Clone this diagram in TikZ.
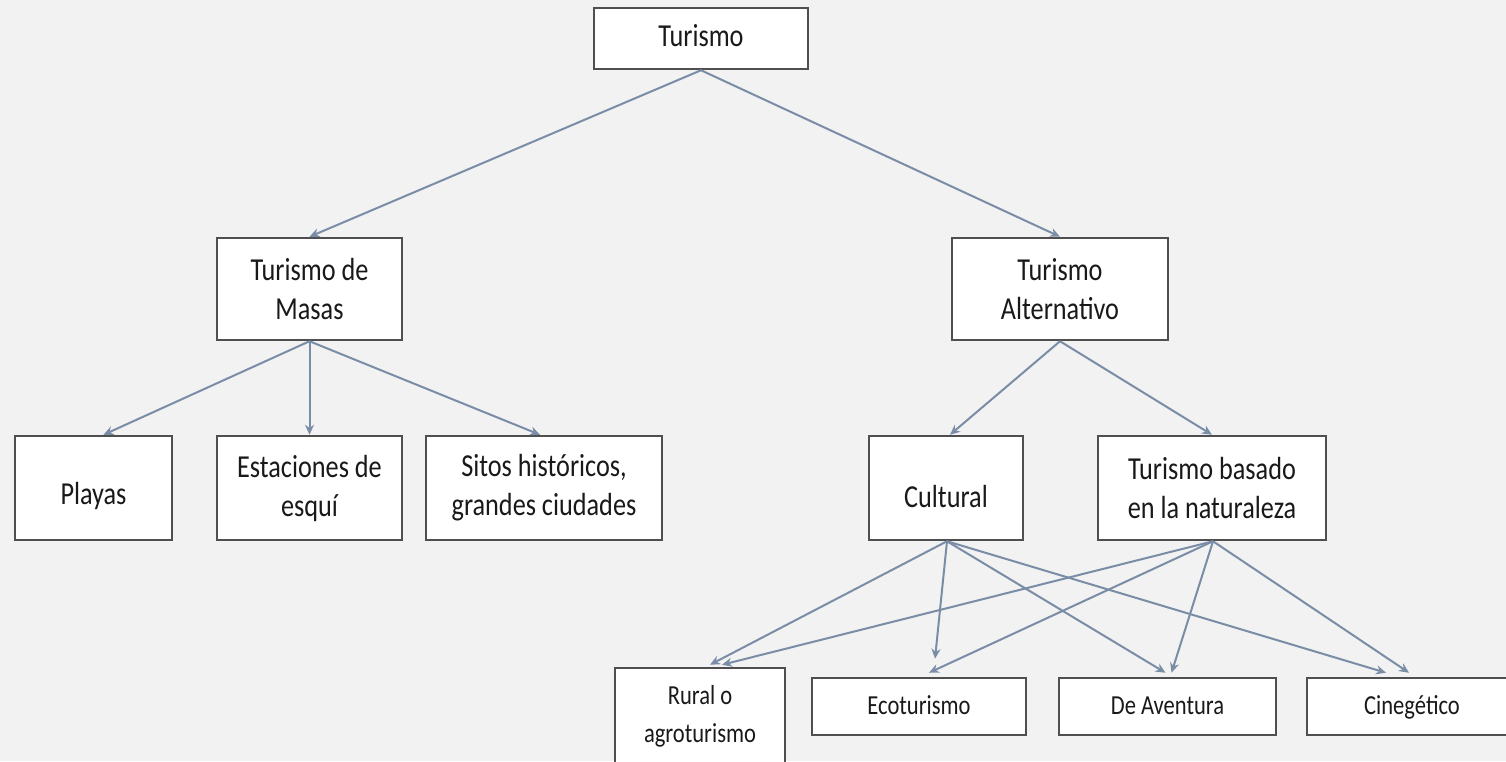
\documentclass[tikz,border=0pt]{standalone}
\usepackage{fontspec}
\setmainfont{Carlito}[FakeStretch=0.82]
\usetikzlibrary{arrows.meta}
\definecolor{bgc}{HTML}{F2F2F2}
\definecolor{boxc}{HTML}{4F4F4F}
\definecolor{arrc}{HTML}{7A8DA6}
\tikzset{
  bx/.style={draw=boxc, line width=2.5pt, fill=white, align=center, inner sep=0pt,
    font=\fontsize{32}{39}\selectfont, text=black!90},
  sbx/.style={bx, font=\fontsize{27.5}{38}\selectfont},
  arr/.style={draw=arrc, line width=2pt, -{Stealth[length=10pt,width=9pt]}},
}
\begin{document}
\begin{tikzpicture}[x=1pt,y=-1pt]
\useasboundingbox (0,0) rectangle (1506,761);
\fill[bgc] (0,0) rectangle (1506,761);
\begin{scope}
\clip (0,0) rectangle (1506,761);
\node[bx, minimum width=214pt, minimum height=61pt] (t) at (701,38.5) {\strut Turismo};
\node[bx, minimum width=185pt, minimum height=102pt] (masas) at (309.5,289) {Turismo de\\Masas};
\node[bx, minimum width=216pt, minimum height=102pt] (alt) at (1060,289) {Turismo\\Alternativo};
\node[bx, minimum width=157pt, minimum height=104pt] (playas) at (93.5,488) {~\\Playas};
\node[bx, minimum width=185pt, minimum height=104pt] (esq) at (309.5,488) {Estaciones de\\esquí};
\node[bx, minimum width=236pt, minimum height=104pt] (sitos) at (544,488) {Sitos históricos,\\grandes ciudades};
\node[bx, minimum width=154pt, minimum height=104pt] (cult) at (946,488) {~\\Cultural};
\node[bx, minimum width=228pt, minimum height=104pt] (nat) at (1212,488) {Turismo basado\\en la naturaleza};
\node[sbx, minimum width=170pt, minimum height=96pt] (rural) at (700,716) {Rural o\\agroturismo};
\node[sbx, minimum width=214pt, minimum height=57pt] (eco) at (919,706.5) {\strut Ecoturismo};
\node[sbx, minimum width=217pt, minimum height=57pt] (ave) at (1167.5,706.5) {\strut De Aventura};
\node[sbx, minimum width=210pt, minimum height=57pt] (cine) at (1412,706.5) {\strut Cinegético};
\end{scope}
% connectors
\draw[arr] (t.south) -- (masas.north);
\draw[arr] (t.south) -- (alt.north);
\draw[arr] (masas.south) -- ([xshift=10pt]playas.north);
\draw[arr] (masas.south) -- (esq.north);
\draw[arr] (masas.south) -- ([xshift=-4pt]sitos.north);
\draw[arr] (alt.south) -- ([xshift=4pt]cult.north);
\draw[arr] (alt.south) -- (nat.north);
\draw[arr] ([xshift=1pt]cult.south) -- ([xshift=10pt,yshift=2pt]rural.north);
\draw[arr] ([xshift=1pt]cult.south) -- ([xshift=16pt,yshift=18pt]eco.north);
\draw[arr] ([xshift=1pt]cult.south) -- ([xshift=-2pt,yshift=4pt]ave.north);
\draw[arr] ([xshift=1pt]cult.south) -- ([xshift=-26pt,yshift=4pt]cine.north);
\draw[arr] ([xshift=1pt]nat.south) -- ([xshift=22pt,yshift=2pt]rural.north);
\draw[arr] ([xshift=1pt]nat.south) -- ([xshift=10pt,yshift=4pt]eco.north);
\draw[arr] ([xshift=1pt]nat.south) -- ([xshift=4pt,yshift=4pt]ave.north);
\draw[arr] ([xshift=1pt]nat.south) -- ([xshift=-3pt,yshift=4pt]cine.north);
\end{tikzpicture}
\end{document}
